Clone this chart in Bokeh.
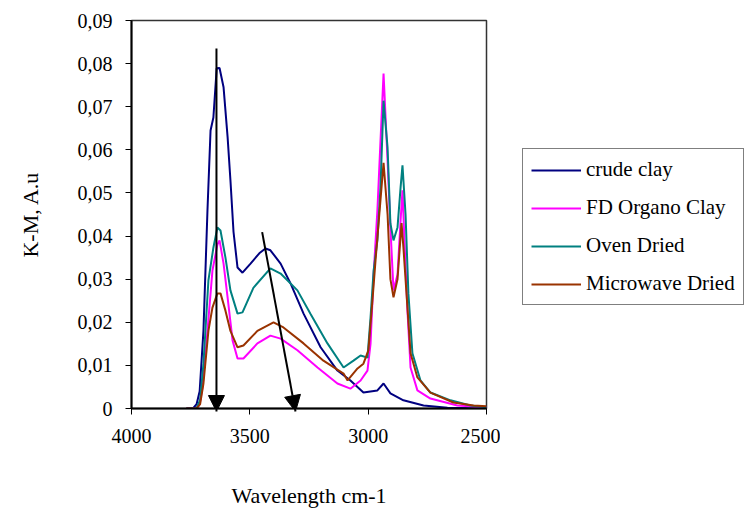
from bokeh.plotting import figure
from bokeh.layouts import row
from bokeh.models import (Range1d, FixedTicker, CustomJSTickFormatter, Legend, LegendItem,
                          Arrow, NormalHead)
from bokeh.embed import file_html
from bokeh.resources import INLINE

# ---- data (wavenumber cm-1, K-M value) ----
crude_w = [3768, 3740, 3725, 3712, 3696, 3679, 3666, 3654, 3640, 3628, 3611, 3594, 3582, 3569, 3552,
           3531, 3497, 3460, 3434, 3413, 3370, 3328, 3273, 3201, 3130, 3075, 3020, 2961, 2935, 2906,
           2851, 2766, 2665, 2500]
crude_v = [0, 0, 0.001, 0.004, 0.018, 0.046, 0.0645, 0.0675, 0.0789, 0.079, 0.0745, 0.063, 0.053, 0.041,
           0.0327, 0.0315, 0.0336, 0.036, 0.0371, 0.0367, 0.0336, 0.029, 0.022, 0.0142, 0.0088, 0.0065,
           0.0037, 0.0042, 0.0058, 0.0035, 0.0019, 0.0007, 0.0002, 0]

fd_w = [3768, 3725, 3712, 3700, 3679, 3658, 3637, 3628, 3611, 3594, 3573, 3552, 3527, 3468, 3413, 3370,
        3299, 3214, 3130, 3075, 3032, 3003, 2990, 2977, 2961, 2948, 2935, 2918, 2906, 2893, 2876, 2863,
        2855, 2846, 2834, 2821, 2792, 2737, 2623, 2500]
fd_v = [0, 0, 0.001, 0.0049, 0.018, 0.032, 0.038, 0.039, 0.0336, 0.0258, 0.0158, 0.0116, 0.0116, 0.0151,
        0.0169, 0.0162, 0.0135, 0.0095, 0.0058, 0.0046, 0.0065, 0.0088, 0.015, 0.031, 0.046, 0.062, 0.0777,
        0.0575, 0.042, 0.0274, 0.031, 0.0436, 0.0506, 0.038, 0.0227, 0.0095, 0.0042, 0.0023, 0.0007, 0.0003]

oven_w = [3768, 3725, 3710, 3696, 3675, 3654, 3637, 3624, 3603, 3582, 3552, 3531, 3485, 3413, 3370, 3299,
          3244, 3172, 3104, 3062, 3032, 3003, 2990, 2977, 2961, 2948, 2935, 2918, 2906, 2893, 2876, 2863,
          2855, 2842, 2830, 2813, 2779, 2737, 2652, 2568, 2500]
oven_v = [0, 0, 0.002, 0.0104, 0.0297, 0.0373, 0.042, 0.0413, 0.035, 0.0274, 0.022, 0.0223, 0.028, 0.0325,
          0.0313, 0.0274, 0.022, 0.0151, 0.0095, 0.0111, 0.0123, 0.0118, 0.0211, 0.032, 0.039, 0.0513, 0.0714,
          0.0605, 0.0429, 0.039, 0.042, 0.0513, 0.0564, 0.045, 0.0267, 0.0128, 0.0065, 0.0037, 0.0019,
          0.0007, 0.0003]

micro_w = [3768, 3725, 3710, 3696, 3675, 3658, 3637, 3624, 3603, 3582, 3552, 3527, 3468, 3400, 3358, 3273,
           3189, 3104, 3087, 3045, 3020, 2999, 2982, 2969, 2948, 2935, 2918, 2906, 2893, 2876, 2859, 2851,
           2834, 2821, 2792, 2737, 2640, 2555, 2500]
micro_v = [0, 0, 0.001, 0.0058, 0.018, 0.0234, 0.0267, 0.0267, 0.0227, 0.018, 0.0142, 0.0146, 0.018, 0.020,
           0.0188, 0.0151, 0.0111, 0.0081, 0.0065, 0.0093, 0.0104, 0.0135, 0.025, 0.0343, 0.0483, 0.057,
           0.045, 0.030, 0.0258, 0.030, 0.043, 0.0373, 0.0234, 0.0128, 0.0072, 0.0037, 0.0014, 0.0007, 0.0005]

series_names = ["crude clay", "FD Organo Clay", "Oven Dried", "Microwave Dried"]
series_colors = ["#000080", "#FF00FF", "#008080", "#993300"]

x_ticks = [4000, 3500, 3000, 2500]
y_ticks = [0, 0.01, 0.02, 0.03, 0.04, 0.05, 0.06, 0.07, 0.08, 0.09]

# annotation arrows (start -> tip), in data units
arrow1 = [3641, 0.0835, 3641, -0.0007]
arrow2 = [3448, 0.0409, 3307, -0.0007]

FONT = "Liberation Serif"

p = figure(width=500, height=514, output_backend="svg", toolbar_location=None,
           x_range=Range1d(4000, 2500), y_range=Range1d(0, 0.09))
p.min_border_left = 131
p.min_border_right = 14
p.min_border_top = 20
p.min_border_bottom = 106
p.background_fill_color = "white"
p.border_fill_color = "white"
p.outline_line_color = "#333333"
p.outline_line_width = 1.5
p.xgrid.visible = False
p.ygrid.visible = False

series = [(crude_w, crude_v), (fd_w, fd_v), (oven_w, oven_v), (micro_w, micro_v)]
for (xs, ys), c in zip(series, series_colors):
    p.line(xs, ys, line_color=c, line_width=2)

for a in (arrow1, arrow2):
    p.add_layout(Arrow(x_start=a[0], y_start=a[1], x_end=a[2], y_end=a[3],
                       line_color="black", line_width=2,
                       end=NormalHead(size=16, fill_color="black", line_color="black")))

# axes
p.xaxis.ticker = FixedTicker(ticks=x_ticks)
p.yaxis.ticker = FixedTicker(ticks=y_ticks)
p.yaxis.formatter = CustomJSTickFormatter(code="return tick === 0 ? '0' : tick.toFixed(2).replace('.', ',');")
p.xaxis.formatter = CustomJSTickFormatter(code="return tick.toFixed(0);")
for ax in (p.xaxis[0], p.yaxis[0]):
    ax.axis_line_color = "black"
    ax.axis_line_width = 2
    ax.major_tick_line_color = "black"
    ax.major_tick_line_width = 1
    ax.minor_tick_line_color = None
    ax.major_tick_in = 0
    ax.major_tick_out = 6
    ax.major_label_text_font = FONT
    ax.major_label_text_font_size = "20px"
    ax.major_label_text_color = "black"
    ax.axis_label_text_font = FONT
    ax.axis_label_text_font_size = "22px"
    ax.axis_label_text_font_style = "normal"
    ax.axis_label_text_color = "black"

p.xaxis.axis_label = "Wavelength cm-1"
p.yaxis.axis_label = "K-M, A.u"
p.xaxis.major_label_standoff = 14
p.yaxis.major_label_standoff = 13
p.xaxis.axis_label_standoff = 37
p.yaxis.axis_label_standoff = 32

# legend panel (separate figure to the right of the plot); its lines lie outside its view
q = figure(width=246, height=514, output_backend="svg", toolbar_location=None,
           x_range=Range1d(0, 1), y_range=Range1d(0, 1))
q.axis.visible = False
q.min_border_left = 0
q.min_border_top = 20
q.min_border_right = 0
q.min_border_bottom = 106
q.xgrid.visible = False
q.ygrid.visible = False
q.outline_line_color = None
q.background_fill_color = "white"
q.border_fill_color = "white"
items = []
for name, (xs, ys), c in zip(series_names, series, series_colors):
    r = q.line(xs, ys, line_color=c, line_width=2)
    items.append(LegendItem(label=name, renderers=[r]))

legend = Legend(items=items, location=(22, 103), orientation="vertical")
legend.label_text_font = FONT
legend.label_text_font_size = "21px"
legend.label_text_color = "black"
legend.glyph_width = 50
legend.glyph_height = 20
legend.label_height = 20
legend.label_standoff = 5
legend.spacing = 13
legend.padding = 8
legend.margin = 0
legend.border_line_color = "black"
legend.border_line_width = 1
legend.background_fill_color = "white"
legend.background_fill_alpha = 1
q.add_layout(legend, "center")

layout = row(p, q)
open("out.html", "w").write(file_html(layout, INLINE))
